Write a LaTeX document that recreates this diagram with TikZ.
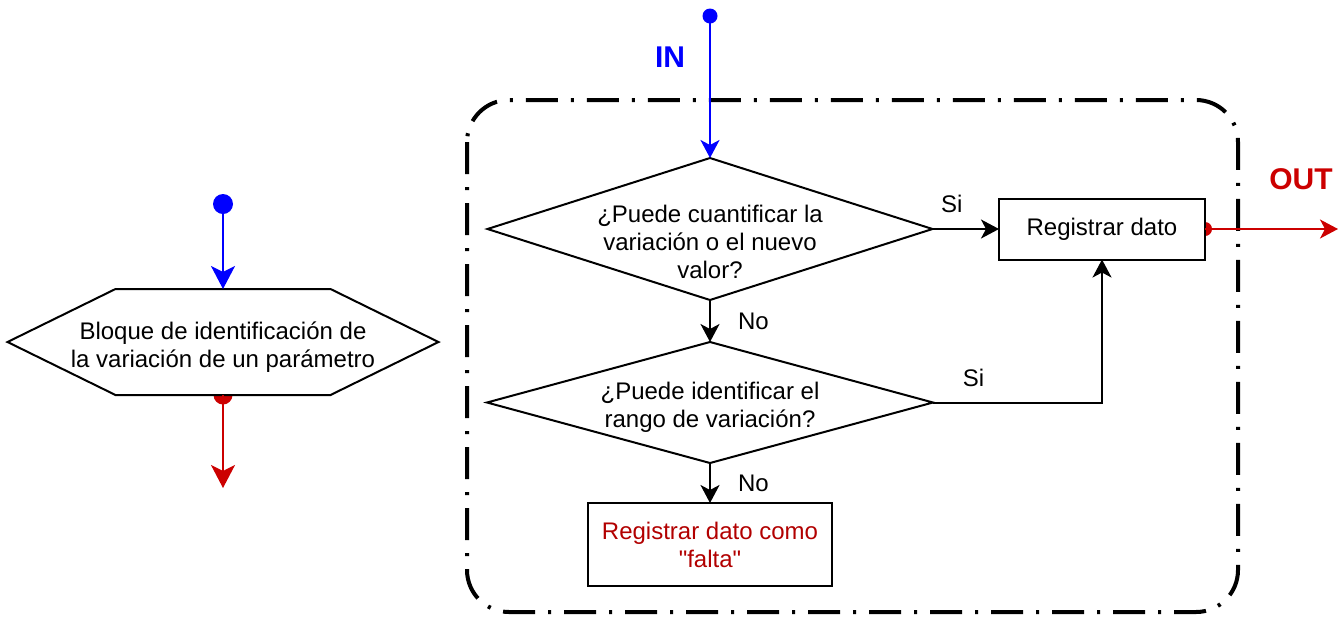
\documentclass[tikz,border=0pt]{standalone}
\usepackage{fontspec}
\setmainfont{Liberation Sans}
\usetikzlibrary{arrows.meta, positioning, calc, shapes.geometric}
\definecolor{inblue}{RGB}{0, 0, 255}
\definecolor{outred}{RGB}{204, 0, 0}
\definecolor{notered}{RGB}{178, 0, 0}
\pgfdeclarelayer{back}
\pgfsetlayers{back,main}

\begin{document}
\begin{tikzpicture}[x=0.5pt, y=-0.5pt,
  txt/.style={inner sep=0pt, align=center, font=\fontsize{12}{14}\selectfont},
  lbl/.style={inner sep=0pt, font=\fontsize{12}{14}\selectfont},
  io/.style={inner sep=0pt, font=\fontsize{15}{18}\selectfont\bfseries},
  box/.style={draw, line width=1pt, fill=white, rectangle, inner sep=0pt, outer sep=0pt, align=center, font=\fontsize{12}{14}\selectfont},
  decision/.style={draw, line width=1pt, fill=white, diamond, inner sep=0pt, outer sep=0pt},
  tip/.style={-{Stealth[length=9pt, width=9.5pt, inset=2.5pt]}},
  bigtip/.style={-{Stealth[length=11.5pt, width=12pt, inset=3pt]}},
  link/.style={line width=1pt, tip},
  frame/.style={line width=2pt, dash pattern=on 16pt off 6.5pt on 1.5pt off 6.5pt, rounded corners=21pt}
]
\useasboundingbox (0,0) rectangle (1344,617);

% generic block (hexagon)
\node[minimum width=107.5pt, minimum height=53pt, inner sep=0pt, outer sep=0pt] (blk) at (223,342) {};
\draw[line width=1pt, fill=white] (blk.north west) -- (blk.north east) -- ($(blk.east)+(108,0)$)
  -- (blk.south east) -- (blk.south west) -- ($(blk.west)+(-108,0)$) -- cycle;
\node[txt] (blktxt) at ($(blk.center)+(0,5)$) {Bloque de identificación de\\la variación de un parámetro};
\coordinate[above=42.5pt of blk.north] (blkin);
\coordinate[below=46.5pt of blk.south] (blkout);
\fill[inblue] (blkin) circle (5pt);
\draw[inblue, line width=1pt, bigtip] (blkin) -- (blk.north);
\draw[outred, line width=1pt, bigtip] (blk.south) -- (blkout);

% detailed block
\draw[frame] (467,100) rectangle (1238,612);
\node[decision, minimum width=222.5pt, minimum height=71pt] (q1) at (710,229) {};
\node[txt] (q1txt) at (710,242) {¿Puede cuantificar la\\variación o el nuevo\\valor?};
\node[decision, minimum width=223pt, minimum height=60.5pt] (q2) at (710,402.5) {};
\node[txt] (q2txt) at (710,407) {¿Puede identificar el\\rango de variación?};
\node[box, minimum width=103pt, minimum height=30.5pt] (reg) at (1102,229) {Registrar dato};
\node[box, minimum width=122pt, minimum height=41.5pt, text=notered] (falta) at (710,544.5) {Registrar dato como\\\textquotedbl falta\textquotedbl};

\begin{pgfonlayer}{back}
  \fill[outred] (blk.south) circle (4.75pt);
  \fill[outred] (reg.east) circle (3.5pt);
\end{pgfonlayer}

\coordinate[above=71pt of q1.north] (start);
\fill[inblue] (start) circle (3.75pt);
\draw[inblue, line width=1pt, tip] (start) -- (q1.north);
\node[io, text=inblue] (inlbl) at (670,57.5) {IN};

\draw[link] (q1.south) -- node[lbl, right=13.5pt] {No} (q2.north);
\draw[link] (q2.south) -- node[lbl, right=13.5pt] {No} (falta.north);
\draw[link] (q1.east) -- node[lbl, above=7.5pt, pos=0.29] {Si} (reg.west);
\draw[link] (q2.east) -| node[lbl, above=7.5pt, pos=0.12] {Si} (reg.south);

\coordinate[right=66.5pt of reg.east] (end);
\draw[outred, line width=1pt, tip] (reg.east) -- (end);
\node[io, text=outred] (outlbl) at (1301,179) {OUT};
\end{tikzpicture}
\end{document}
